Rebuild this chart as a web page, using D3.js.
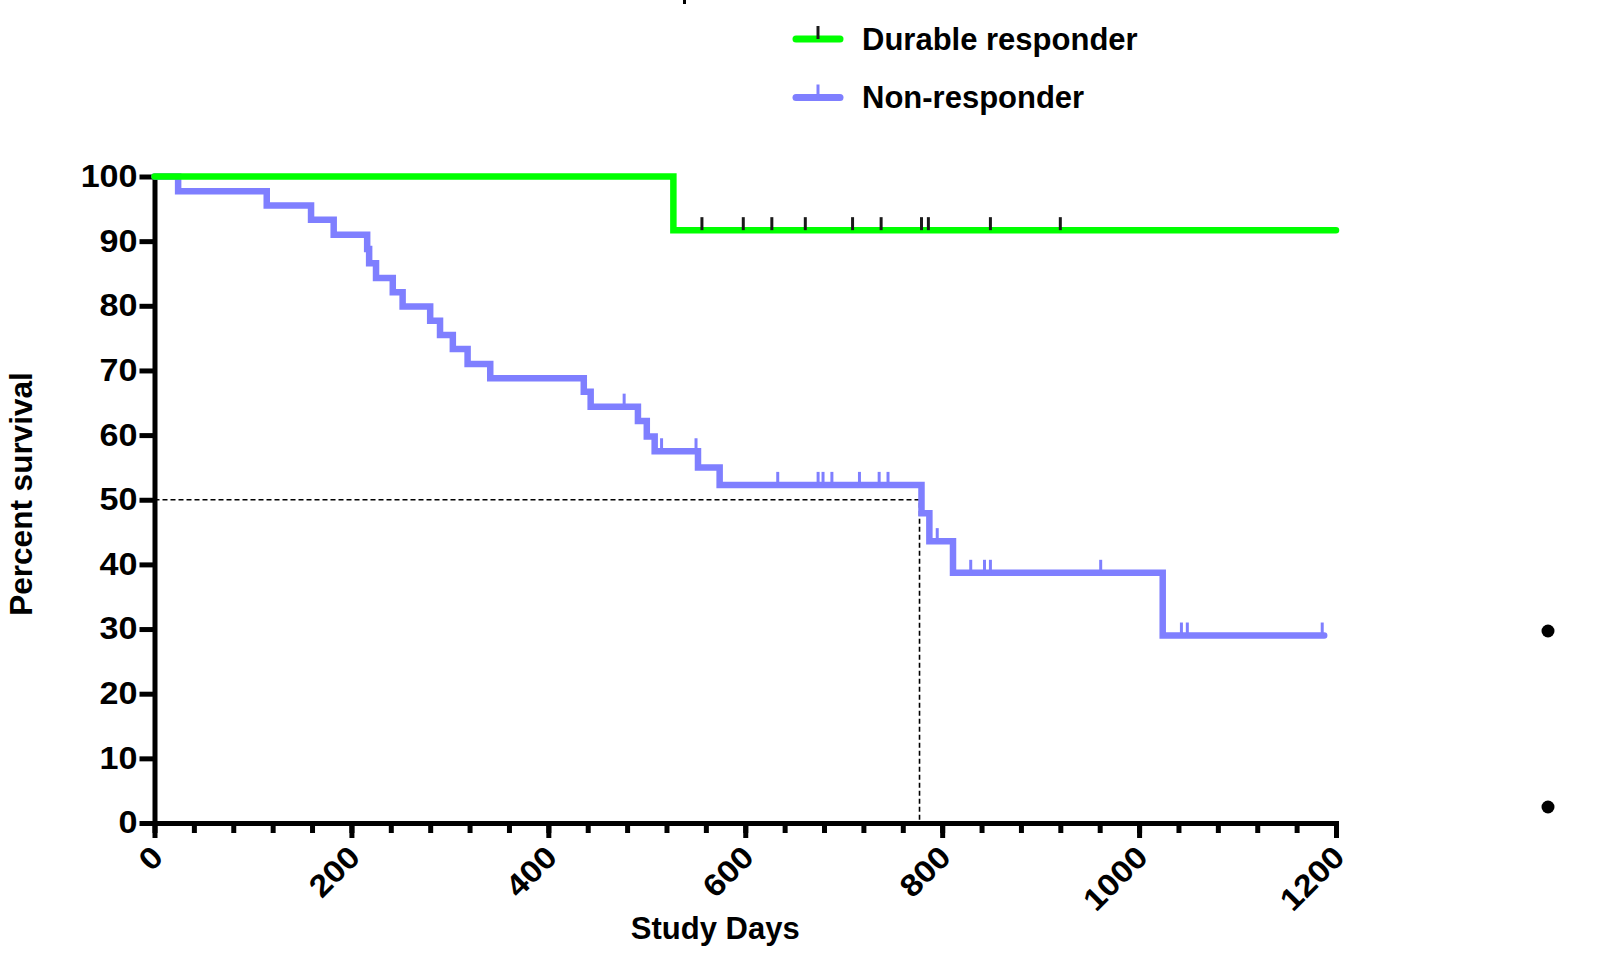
<!DOCTYPE html>
<html>
<head>
<meta charset="utf-8">
<script src="https://cdn.jsdelivr.net/npm/d3@7"></script>
<style>
  html, body { margin: 0; padding: 0; background: #fff; }
  svg { display: block; font-family: "Liberation Sans", Arial, sans-serif; font-weight: bold; }
</style>
</head>
<body>
<svg id="chart" width="1613" height="967"></svg>
<script>
// series names
const groups = ['Durable responder', 'Non-responder']

// durable responders: step times (days) and percent survival
const drDays = [0, 527, 1200]
const drSurv = [100, 91.7, 91.7]
const drCensored = [556, 598, 627, 661, 709, 738, 779, 786, 849, 920]

// non-responders
const nrDays = [0, 24, 114, 159, 182, 216, 218, 225, 242, 252, 280, 290, 303, 318, 341,
  436, 443, 491, 500, 508, 552, 574, 779, 787, 811, 1024, 1188]
const nrSurv = [100, 97.7, 95.5, 93.3, 91.0, 88.8, 86.6, 84.3, 82.1, 79.9, 77.7, 75.5, 73.3, 71.0, 68.8,
  66.7, 64.4, 62.2, 59.8, 57.5, 55.0, 52.3, 47.9, 43.6, 38.7, 29.0, 29.0]
const nrCensored = [477, 515, 550, 633, 674, 679, 688, 716, 736, 745, 795, 829, 843, 849,
  961, 1043, 1049, 1186]

// median survival marker of the non-responders
const median = { day: 777, pct: 50 }

const yTicks = d3.range(0, 101, 10)
const xMajor = d3.range(0, 1201, 200)
const xMinor = d3.range(0, 1201, 40)

const green = '#00ff00'
const blue = '#7f7fff'
const labelStretch = 1.1 // tick labels are drawn a bit wider than the font

const svg = d3.select('#chart')
const x = d3.scaleLinear().domain([0, 1200]).range([154.5, 1336])
const y = d3.scaleLinear().domain([0, 100]).range([823, 176.5])

// survival at day t for a step series
function survAt(days, surv, t) {
  const i = d3.bisectRight(days, t) - 1
  return surv[Math.max(0, i)]
}

//axes
const yAxis = svg.append('g')
  .attr('transform', 'translate(' + x(0) + ',0)')
  .call(d3.axisLeft(y).tickValues(yTicks).tickSize(15).tickSizeOuter(0).tickPadding(2))
yAxis.selectAll('text')
  .style('font-size', '31px').style('font-weight', 'bold').attr('fill', '#000')
  .attr('x', -17 / labelStretch)
  .attr('transform', 'scale(' + labelStretch + ',1)')

const xMinorAxis = svg.append('g')
  .attr('transform', 'translate(0,' + y(0) + ')')
  .call(d3.axisBottom(x).tickValues(xMinor).tickSize(10).tickSizeOuter(0).tickFormat(''))

const xAxis = svg.append('g')
  .attr('transform', 'translate(0,' + y(0) + ')')
  .call(d3.axisBottom(x).tickValues(xMajor).tickSize(15).tickSizeOuter(0).tickFormat(d3.format('d')))
xAxis.selectAll('text')
  .style('font-size', '31px').style('font-weight', 'bold').attr('fill', '#000')
  .attr('text-anchor', 'end')
  .attr('y', 0).attr('dy', 0)
  .attr('transform', 'translate(10,36) rotate(-45) scale(' + labelStretch + ',1)')

svg.selectAll('.domain').attr('stroke', '#000').attr('stroke-width', 5).attr('stroke-linecap', 'square')
svg.selectAll('.tick line').attr('stroke', '#000').attr('stroke-width', 5)

// axis titles
svg.append('text')
  .attr('x', x(600) - 30).attr('y', 939)
  .attr('text-anchor', 'middle')
  .style('font-size', '31px')
  .text('Study Days')

svg.append('text')
  .attr('transform', 'translate(32,494) rotate(-90)')
  .attr('text-anchor', 'middle')
  .style('font-size', '31.5px')
  .text('Percent survival')

// curves
const line = d3.line().curve(d3.curveStepAfter).x(d => x(d[0])).y(d => y(d[1]))

const series = [
  { name: groups[1], days: nrDays, surv: nrSurv, cens: nrCensored, color: blue, censColor: blue },
  { name: groups[0], days: drDays, surv: drSurv, cens: drCensored, color: green, censColor: '#1a1a1a' }
]

// median dashes
svg.append('path')
  .attr('d', d3.line()([[x(0), y(median.pct)], [x(median.day), y(median.pct)], [x(median.day), y(0)]]))
  .attr('fill', 'none').attr('stroke', '#000').attr('stroke-width', 1.6)
  .attr('stroke-dasharray', '5,3')

series.forEach(s => {
  svg.append('path')
    .datum(d3.zip(s.days, s.surv))
    .attr('d', line)
    .attr('fill', 'none')
    .attr('stroke', s.color)
    .attr('stroke-width', 6.5)
    .attr('stroke-linecap', 'round')
    .attr('stroke-linejoin', 'miter')

  svg.append('g').selectAll('line')
    .data(s.cens)
    .join('line')
    .attr('x1', d => x(d)).attr('x2', d => x(d))
    .attr('y1', d => y(survAt(s.days, s.surv, d)))
    .attr('y2', d => y(survAt(s.days, s.surv, d)) - 13)
    .attr('stroke', s.censColor)
    .attr('stroke-width', 3)
})

// legend
const legend = svg.append('g').attr('transform', 'translate(796,39)')
const legendItems = [
  { name: groups[0], color: green, censColor: '#1a1a1a' },
  { name: groups[1], color: blue, censColor: blue }
]
legendItems.forEach((d, i) => {
  const g = legend.append('g').attr('transform', 'translate(0,' + (i * 58.5) + ')')
  g.append('line').attr('x1', 0).attr('x2', 44).attr('y1', 0).attr('y2', 0)
    .attr('stroke', d.color).attr('stroke-width', 7).attr('stroke-linecap', 'round')
  g.append('line').attr('x1', 22).attr('x2', 22).attr('y1', 0).attr('y2', -13)
    .attr('stroke', d.censColor).attr('stroke-width', 3)
  g.append('text').attr('x', 66).attr('y', 10.5).style('font-size', '31px').text(d.name)
})

// stray marks that sit outside the plot in the source figure
svg.append('rect').attr('x', 683).attr('y', 0).attr('width', 3).attr('height', 4).attr('fill', '#000')
svg.selectAll('circle.side')
  .data([631, 807])
  .join('circle')
  .attr('class', 'side')
  .attr('cx', 1548).attr('cy', d => d).attr('r', 6.5).attr('fill', '#000')
</script>
</body>
</html>
